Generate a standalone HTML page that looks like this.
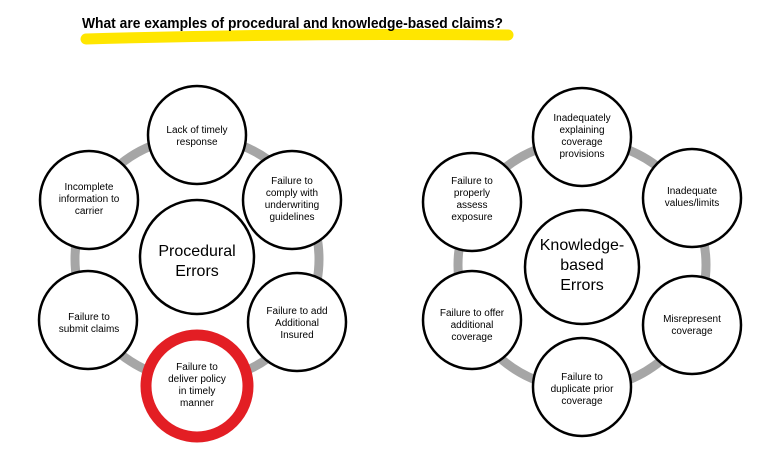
<!DOCTYPE html>
<html><head><meta charset="utf-8"><style>
body{margin:0;background:#fff;width:784px;height:452px;overflow:hidden;font-family:"Liberation Sans",sans-serif}
</style></head><body>
<svg width="784" height="452" xmlns="http://www.w3.org/2000/svg" style="position:absolute;left:0;top:0">
<path d="M86 39 Q300 33 508 35" stroke="#ffe600" stroke-width="11" stroke-linecap="round" fill="none"/>
<text x="82" y="28" font-size="15" font-weight="bold" fill="#000" textLength="421" lengthAdjust="spacingAndGlyphs" font-family="Liberation Sans">What are examples of procedural and knowledge-based claims?</text>
<g fill="none" stroke="#a6a6a6" stroke-width="9">
<circle cx="197" cy="259" r="122"/>
<circle cx="582" cy="265" r="124"/>
</g>
<g fill="#fff" stroke="#000" stroke-width="2.5">
<circle cx="197" cy="257" r="57"/>
<circle cx="197" cy="135" r="49"/>
<circle cx="89" cy="200" r="49"/>
<circle cx="292" cy="200" r="49"/>
<circle cx="88" cy="320" r="49"/>
<circle cx="297" cy="322" r="49"/>
<circle cx="197" cy="385" r="49"/>
<circle cx="582" cy="267" r="57"/>
<circle cx="582" cy="137" r="49"/>
<circle cx="692" cy="198" r="49"/>
<circle cx="472" cy="202" r="49"/>
<circle cx="472" cy="320" r="49"/>
<circle cx="692" cy="325" r="49"/>
<circle cx="582" cy="387" r="49"/>
</g>
<circle cx="197" cy="386" r="51" fill="none" stroke="#e31e24" stroke-width="11"/>
<g font-size="10" text-anchor="middle" fill="#000">
<text x="197" y="133">Lack of timely</text><text x="197" y="145">response</text>
<text x="89" y="190">Incomplete</text><text x="89" y="202">information to</text><text x="89" y="214">carrier</text>
<text x="292" y="184">Failure to</text><text x="292" y="196">comply with</text><text x="292" y="208">underwriting</text><text x="292" y="220">guidelines</text>
<text x="89" y="320">Failure to</text><text x="89" y="332">submit claims</text>
<text x="297" y="314">Failure to add</text><text x="297" y="326">Additional</text><text x="297" y="338">Insured</text>
<text x="197" y="370">Failure to</text><text x="197" y="382">deliver policy</text><text x="197" y="394">in timely</text><text x="197" y="406">manner</text>
<text x="582" y="121">Inadequately</text><text x="582" y="133">explaining</text><text x="582" y="145">coverage</text><text x="582" y="157">provisions</text>
<text x="692" y="194">Inadequate</text><text x="692" y="206">values/limits</text>
<text x="472" y="184">Failure to</text><text x="472" y="196">properly</text><text x="472" y="208">assess</text><text x="472" y="220">exposure</text>
<text x="472" y="316">Failure to offer</text><text x="472" y="328">additional</text><text x="472" y="340">coverage</text>
<text x="692" y="322">Misrepresent</text><text x="692" y="334">coverage</text>
<text x="582" y="380">Failure to</text><text x="582" y="392">duplicate prior</text><text x="582" y="404">coverage</text>
</g>
<g font-size="16" text-anchor="middle" fill="#000">
<text x="197" y="256">Procedural</text><text x="197" y="276">Errors</text>
<text x="582" y="250">Knowledge-</text><text x="582" y="270">based</text><text x="582" y="290">Errors</text>
</g>
</svg>
</body></html>
